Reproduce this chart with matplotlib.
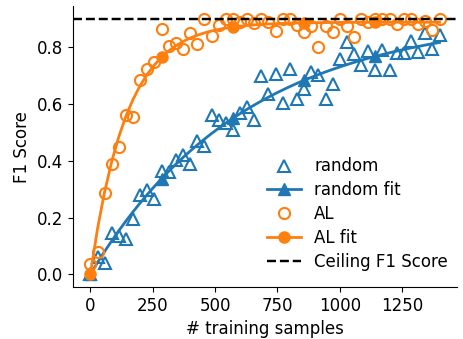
import numpy as np
import matplotlib
matplotlib.use("Agg")
import matplotlib.pyplot as plt

# number of training samples (shared by both strategies)
n_samples = [0, 29, 57, 86, 114, 143, 171, 200, 229, 257,
             286, 314, 343, 371, 400, 429, 457, 486, 514, 543,
             571, 600, 629, 657, 686, 714, 743, 771, 800, 829,
             857, 886, 914, 943, 971, 1000, 1029, 1057, 1086, 1114,
             1143, 1171, 1200, 1229, 1257, 1286, 1314, 1343, 1371, 1400]

random_f1 = [0.0, 0.06, 0.04, 0.145, 0.135, 0.125, 0.195, 0.278, 0.296, 0.267,
             0.364, 0.36, 0.402, 0.419, 0.388, 0.47, 0.452, 0.56, 0.545, 0.533,
             0.51, 0.568, 0.59, 0.545, 0.698, 0.637, 0.705, 0.604, 0.725, 0.616,
             0.654, 0.713, 0.701, 0.616, 0.672, 0.76, 0.819, 0.778, 0.737, 0.787,
             0.719, 0.789, 0.721, 0.78, 0.78, 0.822, 0.783, 0.85, 0.795, 0.842]

al_f1 = [0.035, 0.08, 0.285, 0.39, 0.448, 0.56, 0.553, 0.684, 0.722, 0.747,
         0.863, 0.803, 0.814, 0.793, 0.849, 0.81, 0.9, 0.839, 0.878, 0.9,
         0.9, 0.888, 0.9, 0.885, 0.9, 0.888, 0.856, 0.9, 0.9, 0.878,
         0.853, 0.874, 0.8, 0.874, 0.853, 0.9, 0.874, 0.835, 0.9, 0.888,
         0.9, 0.9, 0.9, 0.881, 0.9, 0.9, 0.881, 0.892, 0.86, 0.9]

ceiling_f1 = 0.9


def fit_curve(x, y):
    # saturating exponential y = a*(1 - exp(-b*x)); grid over b, least squares for a
    x = np.asarray(x, dtype=float)
    y = np.asarray(y, dtype=float)
    best = None
    for b in np.logspace(-4, -1, 3000):
        f = 1 - np.exp(-b * x)
        a = f @ y / (f @ f)
        sse = np.sum((a * f - y) ** 2)
        if best is None or sse < best[0]:
            best = (sse, a, b)
    _, a, b = best
    return a * (1 - np.exp(-b * x))


random_fit = fit_curve(n_samples, random_f1)
al_fit = fit_curve(n_samples, al_f1)

plt.rcParams['font.size'] = 12

fig, ax = plt.subplots(figsize=(4.64, 3.39), dpi=100)
fig.subplots_adjust(left=0.157, right=0.985, bottom=0.153, top=0.982)

ax.plot(n_samples, random_f1, linestyle='none', marker='^', ms=8, mew=1.5,
        mfc='none', mec='tab:blue', label='random')
ax.plot(n_samples, random_fit, '-^', color='tab:blue', lw=2, ms=8,
        markevery=10, label='random fit')
ax.plot(n_samples, al_f1, linestyle='none', marker='o', ms=8, mew=1.5,
        mfc='none', mec='tab:orange', label='AL')
ax.plot(n_samples, al_fit, '-o', color='tab:orange', lw=2, ms=8,
        markevery=10, label='AL fit')
ax.axhline(ceiling_f1, color='black', linestyle='--', lw=1.75, label='Ceiling F1 Score')

ax.spines['top'].set_visible(False)
ax.spines['right'].set_visible(False)
ax.set_xlabel('# training samples')
ax.set_ylabel('F1 Score')
ax.legend(loc='lower right', frameon=False, numpoints=1, labelspacing=0.35,
          bbox_to_anchor=(1.015, 0.005))

fig.savefig('out.png', dpi=100)
